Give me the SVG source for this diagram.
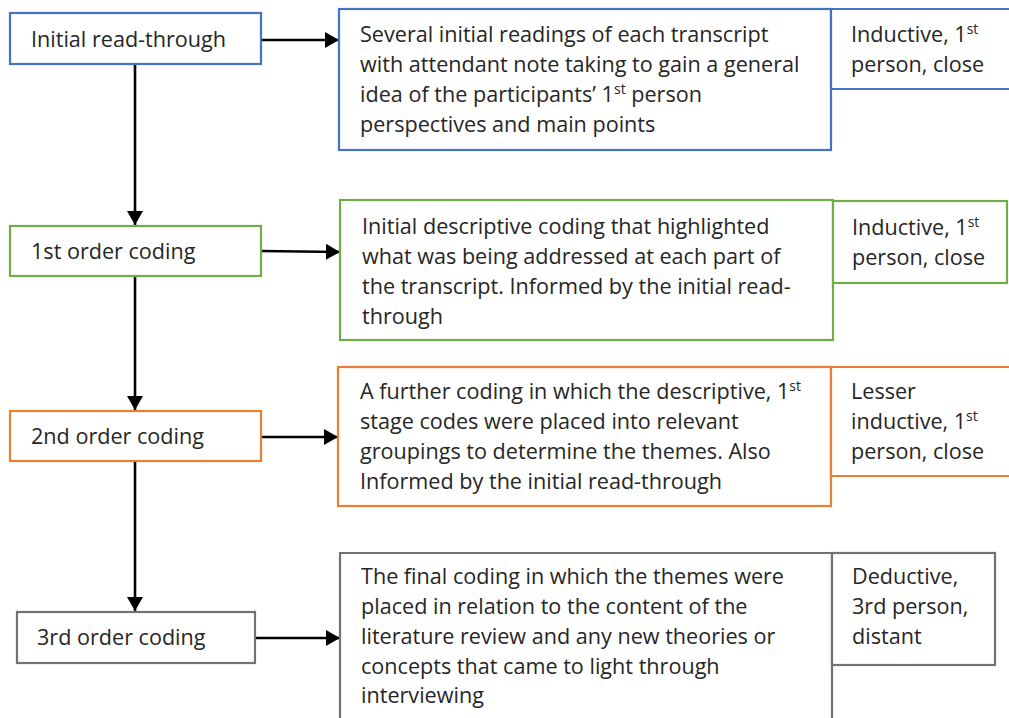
<svg xmlns="http://www.w3.org/2000/svg" width="1009" height="718" viewBox="0 0 1009 718">
<style>
text{font-family:"Open Sans",Lato,sans-serif;font-size:21.6px;fill:#262626}
.box{fill:#fff;stroke-width:2.2}
.b{stroke:#4472C4}.g{stroke:#70AD47}.o{stroke:#ED7D31}.k{stroke:#767171}
.sup{font-size:14px}
.c{stroke:#000;stroke-width:2.6;fill:none;marker-end:url(#ah)}
</style>
<defs>
<marker id="ah" viewBox="0 0 14 16" refX="14" refY="8" markerWidth="14" markerHeight="16" markerUnits="userSpaceOnUse" orient="auto">
<path d="M0,0 L14,8 L0,16 Z" fill="#000"/>
</marker>
</defs>
<rect width="1009" height="718" fill="#fff"/>
<g id="connectors">
<line class="c" x1="261" y1="40" x2="339" y2="40"/>
<line class="c" x1="135" y1="64" x2="135" y2="225"/>
<line class="c" x1="261" y1="251" x2="340" y2="252"/>
<line class="c" x1="135" y1="276" x2="135" y2="410"/>
<line class="c" x1="261" y1="437" x2="338" y2="437"/>
<line class="c" x1="135" y1="461" x2="135" y2="611"/>
<line class="c" x1="255" y1="638" x2="340" y2="638"/>
</g>
<g id="n1">
<rect class="box b" x="10" y="13" width="251" height="51"/>
<text x="31" y="47">Initial read-through</text>
</g>
<g id="d1">
<rect class="box b" x="339" y="9" width="492" height="141"/>
<text x="360" y="42">Several initial readings of each transcript</text>
<text x="360" y="72">with attendant note taking to gain a general</text>
<text x="360" y="102">idea of the participants’ 1<tspan class="sup" dy="-8">st</tspan><tspan dy="8"> person</tspan></text>
<text x="360" y="132">perspectives and main points</text>
</g>
<g id="s1">
<path class="box b" d="M831,9 H1012 M831,9 V89 H1012"/>
<text x="851" y="42">Inductive, 1<tspan class="sup" dy="-8">st</tspan></text>
<text x="851" y="72">person, close</text>
</g>
<g id="n2">
<rect class="box g" x="10" y="226" width="251" height="50"/>
<text x="31" y="259">1st order coding</text>
</g>
<g id="d2">
<rect class="box g" x="340" y="200" width="493" height="140"/>
<text x="362" y="234">Initial descriptive coding that highlighted</text>
<text x="362" y="264">what was being addressed at each part of</text>
<text x="362" y="294">the transcript. Informed by the initial read-</text>
<text x="362" y="324">through</text>
</g>
<g id="s2">
<rect class="box g" x="833" y="201" width="174" height="82"/>
<text x="852" y="235">Inductive, 1<tspan class="sup" dy="-8">st</tspan></text>
<text x="852" y="265">person, close</text>
</g>
<g id="n3">
<rect class="box o" x="10" y="411" width="251" height="50"/>
<text x="31" y="444">2nd order coding</text>
</g>
<g id="d3">
<rect class="box o" x="338" y="367" width="493" height="139"/>
<text x="360" y="399">A further coding in which the descriptive, 1<tspan class="sup" dy="-8">st</tspan></text>
<text x="360" y="429">stage codes were placed into relevant</text>
<text x="360" y="459">groupings to determine the themes. Also</text>
<text x="360" y="489">Informed by the initial read-through</text>
</g>
<g id="s3">
<path class="box o" d="M831,367 H1012 M831,367 V476 H1012"/>
<text x="851" y="399">Lesser</text>
<text x="851" y="429">inductive, 1<tspan class="sup" dy="-8">st</tspan></text>
<text x="851" y="459">person, close</text>
</g>
<g id="n4">
<rect class="box k" x="17" y="612" width="238" height="51"/>
<text x="37" y="645">3rd order coding</text>
</g>
<g id="d4">
<path class="box k" d="M340,725 V553 H832 V725"/>
<text x="361" y="584">The final coding in which the themes were</text>
<text x="361" y="614">placed in relation to the content of the</text>
<text x="361" y="644">literature review and any new theories or</text>
<text x="361" y="674">concepts that came to light through</text>
<text x="361" y="703">interviewing</text>
</g>
<g id="s4">
<rect class="box k" x="832" y="553" width="163" height="112"/>
<text x="852" y="584">Deductive,</text>
<text x="852" y="614">3rd person,</text>
<text x="852" y="644">distant</text>
</g>
</svg>
